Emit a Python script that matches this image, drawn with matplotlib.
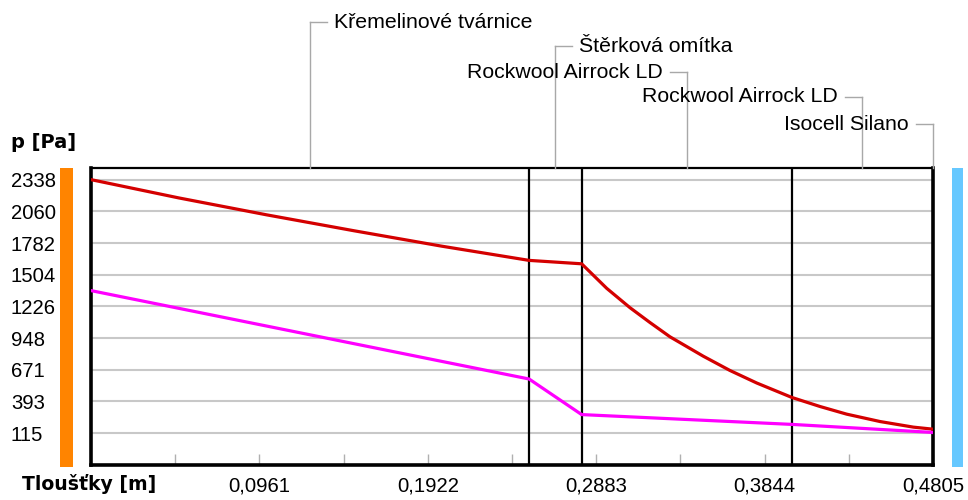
import matplotlib
matplotlib.use("Agg")
import matplotlib.pyplot as plt
from matplotlib.patches import Rectangle
from matplotlib.lines import Line2D

# ---------------- data ----------------
layer_names = ["Křemelinové tvárnice", "Štěrková omítka", "Rockwool Airrock LD",
               "Rockwool Airrock LD", "Isocell Silano"]
layer_thickness = [0.25, 0.03, 0.12, 0.08, 0.0005]

# saturation vapour pressure (red)
psat_x = [0.0, 0.05, 0.10, 0.15, 0.20, 0.25,
          0.28, 0.2943, 0.3076, 0.3190, 0.3304, 0.3494, 0.3646, 0.3799, 0.40,
          0.4160, 0.4312, 0.4503, 0.4693, 0.4805]
psat_p = [2338, 2178, 2030, 1890, 1755, 1630,
          1600, 1385, 1215, 1085, 960, 790, 665, 555, 428,
          349, 282, 217, 168, 150]

# partial vapour pressure (magenta)
pv_x = [0.0, 0.25, 0.28, 0.40, 0.48, 0.4805]
pv_p = [1365, 590, 278, 192, 122, 120]

ytick_vals = [2338, 2060, 1782, 1504, 1226, 948, 671, 393, 115]
ytick_labels = ["2338", "2060", "1782", "1504", "1226", "948", "671", "393", "115"]
xtick_vals = [0.0961, 0.1922, 0.2883, 0.3844, 0.4805]
xtick_labels = ["0,0961", "0,1922", "0,2883", "0,3844", "0,4805"]
xminor_vals = [0.04805, 0.14415, 0.24025, 0.33635, 0.43245]

total = sum(layer_thickness)

# ---------------- figure ----------------
W, H = 968, 500
fig = plt.figure(figsize=(W / 100, H / 100), dpi=100)
fig.patch.set_facecolor("white")

ax_l, ax_r, ax_t, ax_b = 91, 933, 168, 465
ax = fig.add_axes([ax_l / W, 1 - ax_b / H, (ax_r - ax_l) / W, (ax_b - ax_t) / H])
ax.set_xlim(0, total)
ax.set_ylim(-164, 2440)

ax.plot(psat_x, psat_p, color="#d40000", lw=2.3, solid_joinstyle="round", zorder=4)
ax.plot(pv_x, pv_p, color="#ff00ff", lw=2.3, solid_joinstyle="round", zorder=4)

# layer boundaries
bounds = []
acc = 0.0
for t in layer_thickness[:-2]:
    acc += t
    bounds.append(acc)
for b in bounds:
    ax.axvline(b, color="black", lw=1.6, zorder=3)

# grid / ticks
ax.set_yticks(ytick_vals)
ax.set_yticklabels(ytick_labels)
ax.grid(axis="y", color="#c8c8c8", lw=1.5, zorder=1)
ax.tick_params(axis="y", length=0, pad=57.6, labelsize=14.6)
for lab in ax.get_yticklabels():
    lab.set_horizontalalignment("left")
    lab.set_family("Liberation Sans")

ax.set_xticks(xtick_vals)
ax.set_xticklabels(xtick_labels)
ax.set_xticks(xminor_vals, minor=True)
ax.tick_params(axis="x", which="both", direction="in", length=8, width=1,
               color="#b0b0b0", pad=8, labelsize=14.6)
for lab in ax.get_xticklabels():
    lab.set_family("Liberation Sans")

for side in ["left", "right", "top", "bottom"]:
    ax.spines[side].set_color("black")
ax.spines["left"].set_linewidth(2.6)
ax.spines["bottom"].set_linewidth(2.6)
ax.spines["right"].set_linewidth(2.6)
ax.spines["top"].set_linewidth(1.6)

# side bars
fig.add_artist(Rectangle((60 / W, 1 - 467 / H), 13 / W, 299 / H,
                         transform=fig.transFigure, color="#ff8400", lw=0))
fig.add_artist(Rectangle((952 / W, 1 - 467 / H), 11 / W, 299 / H,
                         transform=fig.transFigure, color="#66c8ff", lw=0))

# axis titles
fig.text(11 / W, 1 - 143 / H, "p [Pa]", fontsize=14, fontweight="bold",
         family="DejaVu Sans", ha="left", va="center")
fig.text(22 / W, 1 - 484 / H, "Tloušťky [m]", fontsize=13.6, fontweight="bold",
         family="DejaVu Sans", ha="left", va="center")

# layer labels with leader lines
label_y = [22, 46, 72, 97, 124]
label_side = ["right", "right", "left", "left", "left"]
start = 0.0
for name, t, ly, side in zip(layer_names, layer_thickness, label_y, label_side):
    mid = start + t / 2
    if name == "Isocell Silano":
        mid = start + t
    start += t
    px = ax.transData.transform((mid, 0))[0]
    yf_top = 1 - ly / H
    yf_ax = 1 - ax_t / H
    xf = px / W
    gray = "#a8a8a8"
    fig.add_artist(Line2D([xf, xf], [yf_ax, yf_top], color=gray, lw=1,
                          transform=fig.transFigure))
    seg = 17
    if side == "right":
        x2 = (px + seg) / W
        fig.add_artist(Line2D([xf, x2], [yf_top, yf_top], color=gray, lw=1,
                              transform=fig.transFigure))
        fig.text((px + seg + 7) / W, yf_top, name, fontsize=15.3,
                 family="Liberation Sans", ha="left", va="center")
    else:
        x2 = (px - seg) / W
        fig.add_artist(Line2D([x2, xf], [yf_top, yf_top], color=gray, lw=1,
                              transform=fig.transFigure))
        fig.text((px - seg - 7) / W, yf_top, name, fontsize=15.3,
                 family="Liberation Sans", ha="right", va="center")

fig.savefig("out.png", dpi=100, facecolor="white")
